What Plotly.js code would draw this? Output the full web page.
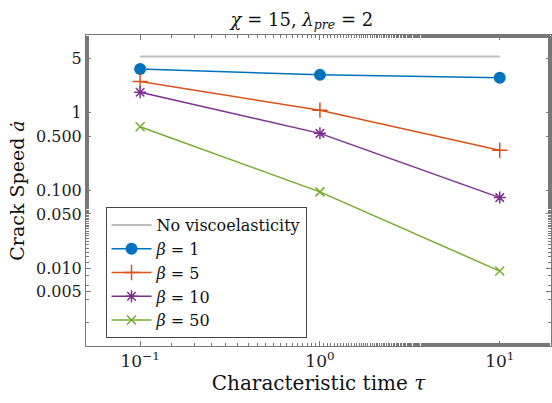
<!DOCTYPE html>
<html>
<head>
<meta charset="utf-8">
<script src="https://cdn.plot.ly/plotly-3.0.1.min.js"></script>
<style>html,body{margin:0;padding:0;background:#fff;}</style>
</head>
<body>
<div id="chart" style="width:552px;height:403px;"></div>
<script>
// Data
const tau = [0.1, 1, 10];
const noVisco = [5.3, 5.3, 5.3];
const beta1 = [3.65, 3.07, 2.81];
const beta5 = [2.52, 1.08, 0.329];
const beta10 = [1.84, 0.543, 0.081];
const beta50 = [0.66, 0.096, 0.0092];

const seriesNames = ["No viscoelasticity", "<i>β</i> = 1", "<i>β</i> = 5", "<i>β</i> = 10", "<i>β</i> = 50"];
const xTickVals = [0.1, 1, 10];
const xTickText = ["10<sup>−1</sup>", "10<sup>0</sup>", "10<sup>1</sup>"];
const yTickVals = [0.005, 0.01, 0.05, 0.1, 0.5, 1, 5];
const yTickText = ["0.005", "0.010", "0.050", "0.100", "0.500", "1", "5"];

const FONT = "'DejaVu Serif', serif";
const colors = ["#bdbdbd", "#0072BD", "#D95319", "#7E2F8E", "#77AC30"];

const traces = [
  {x: tau, y: noVisco, name: seriesNames[0], mode: "lines",
   line: {color: colors[0], width: 2}},
  {x: tau, y: beta1, name: seriesNames[1], mode: "lines+markers",
   line: {color: colors[1], width: 1.5},
   marker: {symbol: "circle", size: 12, color: colors[1]}},
  {x: tau, y: beta5, name: seriesNames[2], mode: "lines+markers",
   line: {color: colors[2], width: 1.5},
   marker: {symbol: "cross-thin-open", size: 11, color: colors[2], line: {color: colors[2], width: 1.5}}},
  {x: tau, y: beta10, name: seriesNames[3], mode: "lines+markers",
   line: {color: colors[3], width: 1.5},
   marker: {symbol: "asterisk-open", size: 10, color: colors[3], line: {color: colors[3], width: 1.5}}},
  {x: tau, y: beta50, name: seriesNames[4], mode: "lines+markers",
   line: {color: colors[4], width: 1.5},
   marker: {symbol: "x-thin-open", size: 9, color: colors[4], line: {color: colors[4], width: 1.5}}}
];

const axisCommon = {
  type: "log",
  showline: true, mirror: "ticks", linecolor: "#777", linewidth: 1,
  ticks: "inside", ticklen: 5, tickcolor: "#777", tickwidth: 1,
  showgrid: false, zeroline: false,
  tickfont: {family: FONT, size: 16, color: "#222"},
  minor: {ticks: "inside", ticklen: 3, tickcolor: "#777", showgrid: false}
};

const layout = {
  width: 552, height: 403,
  margin: {l: 86, r: 1, t: 35, b: 57},
  paper_bgcolor: "#fff", plot_bgcolor: "#fff",
  font: {family: FONT, color: "#222"},
  showlegend: true,
  title: {text: "<i>χ</i> = 15, <i>λ</i><sub><i>pre</i></sub> = 2",
          font: {family: FONT, size: 18, color: "#111"},
          x: 0.547, xref: "container", xanchor: "center",
          y: 0.952, yref: "container", yanchor: "middle"},
  xaxis: Object.assign({}, axisCommon, {
    range: [Math.log10(0.05), 1.285],
    tickvals: xTickVals, ticktext: xTickText,
    tickfont: {family: FONT, size: 17, color: "#222"},
    title: {text: "Characteristic time <i>τ</i>", font: {family: FONT, size: 20, color: "#111"}, standoff: 4}
  }),
  yaxis: Object.assign({}, axisCommon, {
    range: [-3, 1],
    tickvals: yTickVals, ticktext: yTickText,
    title: {text: "Crack Speed <i>ȧ</i>", font: {family: FONT, size: 19, color: "#111"}, standoff: 6}
  }),
  legend: {
    x: 0.042, y: 0.447, xanchor: "left", yanchor: "top",
    bgcolor: "#fff", bordercolor: "#444", borderwidth: 1,
    font: {family: FONT, size: 16, color: "#111"},
    itemwidth: 40, tracegroupgap: 0
  }
};

Plotly.newPlot("chart", traces, layout, {displayModeBar: false, staticPlot: true});
</script>
</body>
</html>
